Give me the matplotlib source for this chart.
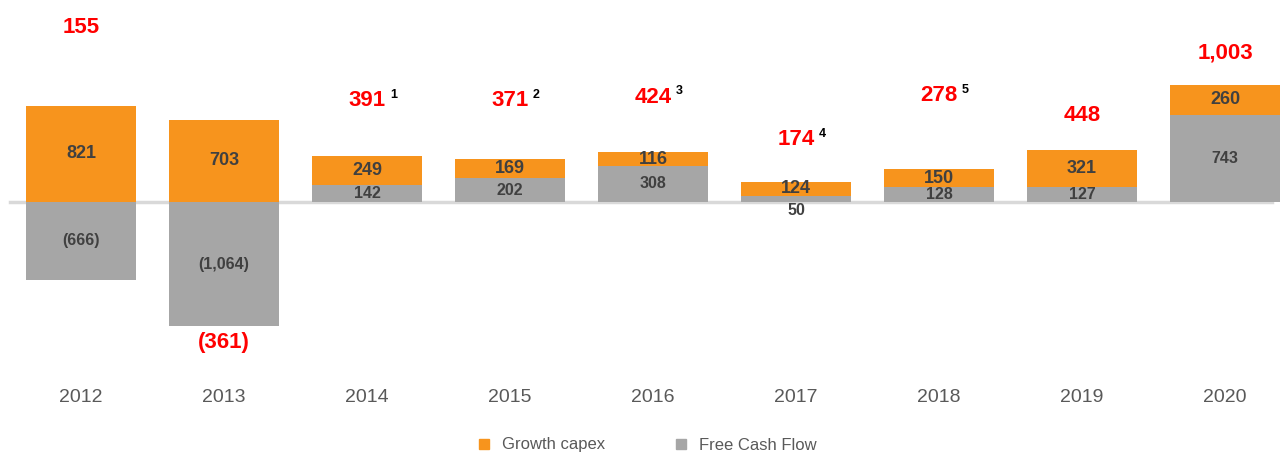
import matplotlib.pyplot as plt
from matplotlib.lines import Line2D

years = ['2012', '2013', '2014', '2015', '2016', '2017', '2018', '2019', '2020']
growth_capex = [821, 703, 249, 169, 116, 124, 150, 321, 260]
free_cash_flow = [-666, -1064, 142, 202, 308, 50, 128, 127, 743]
totals = [155, -361, 391, 371, 424, 174, 278, 448, 1003]
footnotes = ['', '', '1', '2', '3', '4', '5', '', '']

# where the red totals sit (data units)
total_label_y = [1487, -1205, 863, 863, 897, 530, 906, 735, 1274]

ORANGE = '#F7941D'
GREY = '#A6A6A6'
TXT = '#404040'
NARROW = ['Liberation Sans Narrow', 'Liberation Sans', 'DejaVu Sans']

plt.rcParams['font.family'] = ['Liberation Sans', 'DejaVu Sans']


def fmt(v):
    s = f'{abs(v):,}'
    return f'({s})' if v < 0 else s


fig = plt.figure(figsize=(12.84, 4.53), dpi=100)
ax = fig.add_axes([0, 68 / 453, 1, 385 / 453])

x = list(range(len(years)))
width = 0.77
capex_bottom = [max(v, 0) for v in free_cash_flow]

ax.axhline(0, xmin=10 / 1284, xmax=1272 / 1284, color='#D9D9D9', lw=2.5, zorder=1)
ax.bar(x, free_cash_flow, width, color=GREY, zorder=2)
ax.bar(x, growth_capex, width, bottom=capex_bottom, color=ORANGE, zorder=2)

for i in x:
    g, f = growth_capex[i], free_cash_flow[i]
    ax.text(i, capex_bottom[i] + g / 2, fmt(g), ha='center', va='center',
            fontsize=13, fontweight='bold', color=TXT, family=NARROW, zorder=3)
    if abs(f) < 100:
        ax.text(i, -12, fmt(f), ha='center', va='top', fontsize=11.5,
                fontweight='bold', color=TXT, family=NARROW, zorder=3)
    else:
        ax.text(i, f / 2, fmt(f), ha='center', va='center', fontsize=11.5,
                fontweight='bold', color=TXT, family=NARROW, zorder=3)

    ax.annotate(fmt(totals[i]), (i, total_label_y[i]), ha='center', va='center',
                fontsize=16, fontweight='bold', color='#FF0000', family=NARROW)
    if footnotes[i]:
        ax.annotate(footnotes[i], (i, total_label_y[i]), xytext=(19, 4),
                    textcoords='offset points', ha='center', va='center',
                    fontsize=9, fontweight='bold', color='black', family=NARROW)

ax.set_xlim(-81 / 143, 1203 / 143)
ax.set_ylim(-1564, 1726)
ax.set_xticks(x, years)
ax.tick_params(axis='x', length=0, pad=3, labelsize=14, labelcolor='#595959')
ax.set_yticks([])
for sp in ax.spines.values():
    sp.set_visible(False)

handles = [Line2D([], [], ls='', marker='s', ms=7, color=ORANGE),
           Line2D([], [], ls='', marker='s', ms=7, color=GREY)]
fig.legend(handles, ['Growth capex', 'Free Cash Flow'], loc='center',
           bbox_to_anchor=(0.5, 1 - 445 / 453), ncol=2, frameon=False,
           fontsize=12, labelcolor='#595959', handletextpad=0.1,
           columnspacing=3.5)

fig.savefig('out.png', dpi=100)
